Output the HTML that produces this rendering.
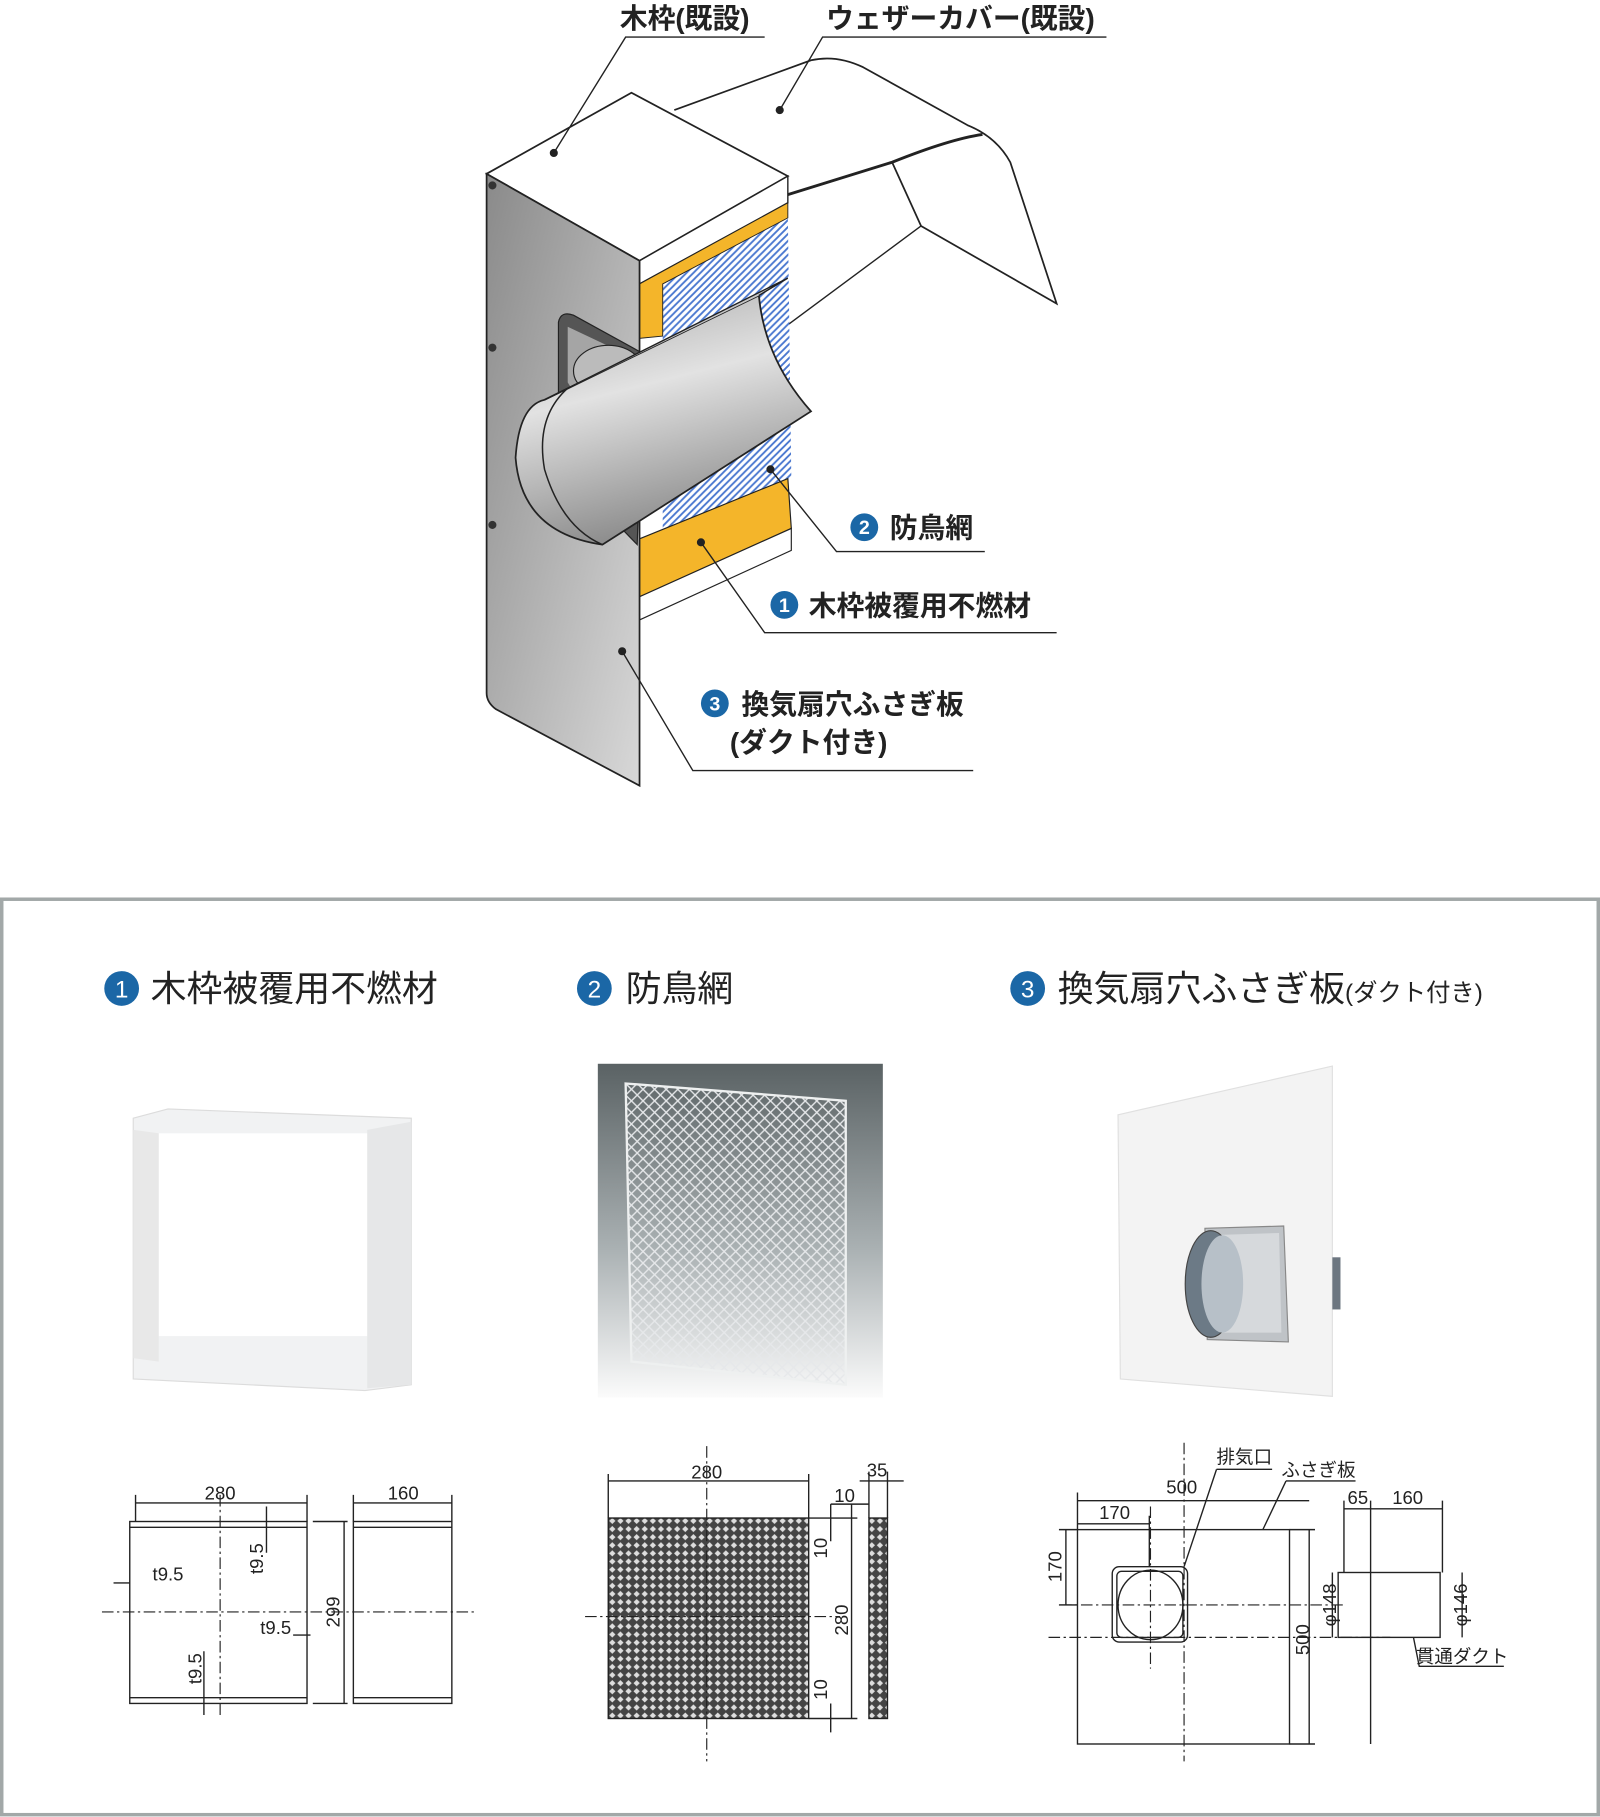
<!DOCTYPE html>
<html><head><meta charset="utf-8"><style>
html,body{margin:0;padding:0;background:#fff}
svg{display:block}
text{font-family:"Liberation Sans","Noto Sans CJK JP",sans-serif}
</style></head><body>
<svg width="1600" height="1817" viewBox="0 0 1381 1568" preserveAspectRatio="none" xmlns="http://www.w3.org/2000/svg">
<defs>
<linearGradient id="plate" x1="0" y1="0" x2="1" y2="1"><stop offset="0" stop-color="#8a8a8a"/><stop offset="1" stop-color="#d8d8d8"/></linearGradient>
<linearGradient id="duct" x1="0" y1="0" x2="0.3" y2="1"><stop offset="0" stop-color="#a8a8a8"/><stop offset="0.45" stop-color="#e2e2e2"/><stop offset="1" stop-color="#8c8c8c"/></linearGradient>
<linearGradient id="photo2" x1="0" y1="0" x2="0" y2="1"><stop offset="0" stop-color="#5a6264"/><stop offset="0.55" stop-color="#a9b0b2"/><stop offset="1" stop-color="#fbfbfb"/></linearGradient>
<pattern id="blue" width="6" height="6" patternUnits="userSpaceOnUse"><rect width="6" height="6" fill="#fff"/><path d="M0 6L6 0M-1 1L1 -1M5 7L7 5" stroke="#4a78d0" stroke-width="1.6"/></pattern>
<pattern id="mesh" width="7" height="7" patternUnits="userSpaceOnUse"><rect width="7" height="7" fill="#444"/><path d="M3.5 0.8L6.2 3.5L3.5 6.2L0.8 3.5Z" fill="#ddd"/></pattern>
<pattern id="wmesh" width="10" height="10" patternUnits="userSpaceOnUse"><path d="M0 5L5 0L10 5L5 10Z" fill="none" stroke="#e6e8ea" stroke-width="1.2"/></pattern>
</defs>

<!-- weather cover -->
<path d="M582 95L700 52Q722 47 745 58L835 108Q860 118 872 140L912 262L795 195L770 140" fill="#fff" stroke="#222" stroke-width="1.5"/>
<path d="M680 168L770 140Q820 120 848 116" fill="none" stroke="#222" stroke-width="2.5"/>
<path d="M795 195L640 310" stroke="#222" stroke-width="1.2"/>
<!-- mesh -->
<polygon points="572,245 680,185 683,412 572,460" fill="url(#blue)"/>
<!-- box top -->
<polygon points="420,150 545,80 680,152 552,225" fill="#fff" stroke="#222" stroke-width="1.5"/>
<polygon points="552,225 680,152 680,175 552,245" fill="#fff" stroke="#222" stroke-width="1.2"/>
<polygon points="552,245 680,175 680,188 572,245 572,290 552,292" fill="#f4b52a" stroke="#222" stroke-width="0.8"/>
<polygon points="552,465 680,413 683,456 552,515" fill="#f4b52a" stroke="#222" stroke-width="1"/>
<polygon points="552,515 683,456 683,475 552,535" fill="#fff" stroke="#222" stroke-width="1"/>
<!-- plate -->
<path d="M420 150L552 225L552 678L428 612Q420 606 420 598Z" fill="url(#plate)" stroke="#222" stroke-width="1.5"/>
<g fill="#333"><circle cx="425" cy="160" r="3.5"/><circle cx="425" cy="300" r="3.5"/><circle cx="425" cy="453" r="3.5"/></g>
<!-- flange -->
<path d="M482 330L482 278Q484 268 495 272L555 305L550 470L482 400Z" fill="#555" stroke="#222"/>
<path d="M490 330L490 282L545 308L545 420Z" fill="#a5a5a5"/>
<ellipse cx="525" cy="320" rx="30" ry="22" fill="#bbb" stroke="#222"/>
<!-- duct -->
<path d="M470 345L655 255Q660 310 700 355L520 470Q450 460 445 395Q448 350 470 345Z" fill="url(#duct)" stroke="#222" stroke-width="1.5"/>
<path d="M470 345L680 240L655 255" fill="#c8c8c8" stroke="#222" stroke-width="1.2"/>
<path d="M490 335Q462 360 470 405Q485 455 520 470" fill="none" stroke="#222" stroke-width="1.3"/>
<!-- dots -->
<g fill="#222"><circle cx="478" cy="132" r="3.5"/><circle cx="673" cy="95" r="3.5"/><circle cx="665" cy="405" r="3.5"/><circle cx="605" cy="468" r="3.5"/><circle cx="537" cy="562" r="3.5"/></g>
<g stroke="#222" stroke-width="1.2" fill="none">
<path d="M478 132L540 32H660"/>
<path d="M673 95L710 32H955"/>
<path d="M665 405L722 476H850"/>
<path d="M605 468L660 546H912"/>
<path d="M537 562L598 665H840"/>
</g>
<g font-weight="bold" font-size="24" fill="#222">
<text x="535" y="24">木枠(既設)</text>
<text x="713" y="24">ウェザーカバー(既設)</text>
<text x="768" y="464">防鳥網</text>
<text x="698" y="531">木枠被覆用不燃材</text>
<text x="640" y="616">換気扇穴ふさぎ板</text>
<text x="630" y="649">(ダクト付き)</text>
</g>
<g fill="#1b67a6"><circle cx="746" cy="455" r="12"/><circle cx="677" cy="522" r="12"/><circle cx="617" cy="607" r="12"/></g>
<g fill="#fff" font-size="17" font-weight="bold" text-anchor="middle"><text x="746" y="461">2</text><text x="677" y="528">1</text><text x="617" y="613">3</text></g>

<!-- panel -->
<rect x="1.5" y="776" width="1378" height="790" fill="#fff" stroke="#a2a8a8" stroke-width="3"/>
<g fill="#1b67a6"><circle cx="105" cy="853" r="15"/><circle cx="513" cy="853" r="15"/><circle cx="887" cy="853" r="15"/></g>
<g fill="#fff" font-size="21" text-anchor="middle"><text x="105" y="861">1</text><text x="513" y="861">2</text><text x="887" y="861">3</text></g>
<g font-size="31" fill="#222">
<text x="130" y="864">木枠被覆用不燃材</text>
<text x="540" y="864">防鳥網</text>
<text x="913" y="864">換気扇穴ふさぎ板<tspan font-size="21">(ダクト付き)</tspan></text>
</g>
<!-- photo 1 -->
<polygon points="115,965 145,957 355,965 355,1195 315,1200 115,1190" fill="#f1f2f3" stroke="#dcdcdc"/>
<rect x="137" y="978" width="180" height="175" fill="#fff"/>
<polygon points="317,975 355,968 355,1195 317,1198" fill="#e6e7e8"/>
<polygon points="115,975 137,978 137,1175 115,1172" fill="#e8e8e8"/>
<!-- photo 2 -->
<rect x="516" y="918" width="246" height="288" fill="url(#photo2)"/>
<polygon points="540,935 730,950 730,1195 545,1175" fill="url(#wmesh)" stroke="#eef0f0" stroke-width="2"/>
<!-- photo 3 -->
<polygon points="965,962 1150,920 1150,1205 967,1190" fill="#f3f3f3" stroke="#e0e0e0"/>
<rect x="1150" y="1085" width="7" height="45" fill="#6c7680"/>
<path d="M1040 1060L1108 1058L1112 1158L1042 1156Z" fill="#bfc3c7" stroke="#888"/>
<path d="M1043 1066L1104 1064L1106 1150L1045 1150Z" fill="#d6d9dc"/>
<ellipse cx="1045" cy="1108" rx="22" ry="46" fill="#6c7a86" stroke="#444"/>
<ellipse cx="1055" cy="1108" rx="18" ry="42" fill="#b7c0c8"/>

<!-- drawings -->
<g stroke="#222" stroke-width="1.2" fill="none">
<rect x="112" y="1313" width="153" height="157"/>
<path d="M112 1318H265M112 1465H265"/>
<rect x="305" y="1313" width="85" height="157"/>
<path d="M305 1318H390M305 1465H390"/>
<path d="M117 1297H265M305 1297H390M117 1290V1313M265 1290V1313M305 1290V1313M390 1290V1313"/>
<path d="M270 1313H300M270 1470H300M297 1313V1470"/>
<path d="M230 1300V1340M98 1366H112M253 1411H268M176 1425V1480"/>
<path d="M88 1391H410M190 1290V1480" stroke-dasharray="10,3,2,3" stroke-width="1"/>
<rect x="525" y="1310" width="173" height="173" fill="url(#mesh)"/>
<rect x="750" y="1310" width="16" height="173" fill="url(#mesh)"/>
<path d="M525 1278H698M525 1272V1310M698 1272V1310M742 1278H780M750 1270V1310M766 1270V1310M717 1298H750"/>
<path d="M698 1310H740M698 1483H740M735 1298V1483M717 1298V1330M717 1470V1495"/>
<path d="M505 1395H725M610 1248V1520" stroke-dasharray="10,3,2,3" stroke-width="1"/>
<rect x="930" y="1320" width="183" height="185"/>
<rect x="960" y="1352" width="65" height="65" rx="6"/>
<rect x="964" y="1356" width="57" height="57" rx="4"/>
<ellipse cx="993" cy="1385" rx="28" ry="30"/>
<path d="M930 1295H1130M930 1288V1320M930 1315H992M992 1308V1352M920 1320V1385M914 1320H930M914 1385H930M1130 1320V1505M1113 1320H1135M1113 1505H1135"/>
<rect x="1155" y="1357" width="88" height="56"/>
<path d="M1183 1295V1505M1160 1302H1245M1245 1295V1357M1160 1295V1357M1150 1357V1413M1262 1357V1413"/>
<path d="M1050 1268H1098M1050 1268L1022 1352M1110 1278H1170M1110 1278L1090 1320M1220 1413L1225 1438H1298"/>
<path d="M915 1385H1160M905 1413H1200M993 1300V1440M1022 1245V1520" stroke-dasharray="10,3,2,3" stroke-width="1"/>
</g>
<g font-size="16" fill="#222" text-anchor="middle">
<text x="190" y="1294">280</text><text x="348" y="1294">160</text>
<text x="145" y="1364">t9.5</text><text x="238" y="1410">t9.5</text>
<text transform="translate(227,1345) rotate(-90)">t9.5</text>
<text transform="translate(174,1440) rotate(-90)">t9.5</text>
<text transform="translate(293,1391) rotate(-90)">299</text>
<text x="610" y="1276">280</text><text x="757" y="1274">35</text><text x="729" y="1296">10</text>
<text transform="translate(714,1336) rotate(-90)">10</text>
<text transform="translate(732,1398) rotate(-90)">280</text>
<text transform="translate(714,1458) rotate(-90)">10</text>
<text x="1020" y="1289">500</text><text x="962" y="1311">170</text>
<text transform="translate(916,1352) rotate(-90)">170</text>
<text transform="translate(1130,1415) rotate(-90)">500</text>
<text x="1172" y="1298">65</text><text x="1215" y="1298">160</text>
<text transform="translate(1153,1385) rotate(-90)">φ148</text>
<text transform="translate(1266,1385) rotate(-90)">φ146</text>
<text x="1074" y="1263">排気口</text><text x="1138" y="1274">ふさぎ板</text><text x="1262" y="1435">貫通ダクト</text>
</g>
</svg>
</body></html>
